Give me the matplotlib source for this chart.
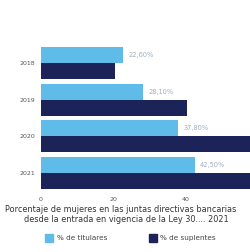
import numpy as np
import matplotlib.pyplot as plt

# Data (top to bottom in the picture)
years = ['2018', '2019', '2020', '2021']
pct_light = [22.6, 28.1, 37.8, 42.5]
pct_dark = [20.4, 40.3, 62.0, 66.0]
labels_light = ['22,60%', '28,10%', '37,80%', '42,50%']
legend_names = ['% de titulares', '% de suplentes']

light = '#5fbbe8'
dark = '#1b2358'

fig = plt.figure(figsize=(2.51, 2.52), dpi=100)
ax = fig.add_axes([41 / 251, 1 - 191 / 252, 217 / 251, 146 / 252])

y = np.arange(len(years))
h = 0.44
ax.barh(y - h / 2, pct_light, height=h, color=light)
ax.barh(y + h / 2, pct_dark, height=h, color=dark)

for yi, v, t in zip(y, pct_light, labels_light):
    ax.text(v + 1.5, yi - h / 2, t, va='center', ha='left', fontsize=4.8, color='#a0aebf')

ax.set_ylim(len(years) - 0.5, -0.5)
ax.set_xlim(0, 60)
ax.set_yticks(y)
ax.set_yticklabels(years, fontsize=4.5, color='#555555')
ax.set_xticks([0, 20, 40])
ax.set_xticklabels(['0', '20', '40'], fontsize=4.5, color='#555555')
ax.tick_params(axis='both', length=0, pad=4)
for s in ax.spines.values():
    s.set_visible(False)

fig.text(5 / 251, 1 - 209 / 252, 'Porcentaje de mujeres en las juntas directivas bancarias',
         ha='left', va='center', fontsize=5.9, color='#333333')
fig.text(24 / 251, 1 - 220 / 252, 'desde la entrada en vigencia de la Ley 30.... 2021',
         ha='left', va='center', fontsize=5.9, color='#333333')

# legend
fig.patches.append(plt.Rectangle((45 / 251, 1 - 242 / 252), 8 / 251, 8 / 252,
                                 transform=fig.transFigure, color=light))
fig.text(57 / 251, 1 - 238 / 252, legend_names[0], va='center', fontsize=5.2, color='#444444')
fig.patches.append(plt.Rectangle((149 / 251, 1 - 242 / 252), 8 / 251, 8 / 252,
                                 transform=fig.transFigure, color=dark))
fig.text(160 / 251, 1 - 238 / 252, legend_names[1], va='center', fontsize=5.2, color='#444444')

plt.savefig('out.png', dpi=100)
